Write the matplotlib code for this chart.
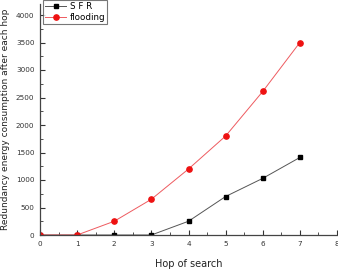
import matplotlib.pyplot as plt
from matplotlib.ticker import MultipleLocator

# data
hops = [0, 1, 2, 3, 4, 5, 6, 7]
sfr = [0, 0, 0, 0, 250, 700, 1030, 1410]
flooding = [0, 0, 250, 650, 1200, 1800, 2610, 3500]

fig = plt.figure(figsize=(3.38, 2.71), dpi=100)
ax = fig.add_axes([40 / 338, 36 / 271, 297 / 338, 231 / 271])

ax.plot(hops, sfr, color='#555555', linewidth=0.7, marker='s', markersize=3.2,
        markerfacecolor='black', markeredgecolor='black', label='S F R')
ax.plot(hops, flooding, color='#ee5a5f', linewidth=0.7, marker='o', markersize=3.8,
        markerfacecolor='#ee1111', markeredgecolor='#ee1111', label='flooding')

ax.set_xlim(0, 8)
ax.set_ylim(0, 4200)
ax.xaxis.set_major_locator(MultipleLocator(1))
ax.xaxis.set_minor_locator(MultipleLocator(0.5))
ax.yaxis.set_major_locator(MultipleLocator(500))
ax.yaxis.set_minor_locator(MultipleLocator(250))
ax.tick_params(which='both', direction='in', labelsize=5.2, colors='#333333', pad=4)
ax.tick_params(which='major', length=3.5, width=0.8)
ax.tick_params(which='minor', length=2, width=0.6)

for s in ['top', 'right']:
    ax.spines[s].set_visible(False)
for s in ['left', 'bottom']:
    ax.spines[s].set_color('#444444')
    ax.spines[s].set_linewidth(0.9)

ax.set_xlabel('Hop of search', fontsize=7, color='#222222', labelpad=9)
ax.set_ylabel('Redundancy energy consumption after each hop', fontsize=6.5,
              color='#222222', labelpad=4)

leg = ax.legend(loc='upper left', bbox_to_anchor=(-0.005, 1.035), fontsize=6.3,
                frameon=True, fancybox=False, edgecolor='#555555',
                handlelength=2.4, borderpad=0.25, labelspacing=0.2, handletextpad=0.4)
leg.get_frame().set_linewidth(0.8)

fig.savefig('out.png', dpi=100)
